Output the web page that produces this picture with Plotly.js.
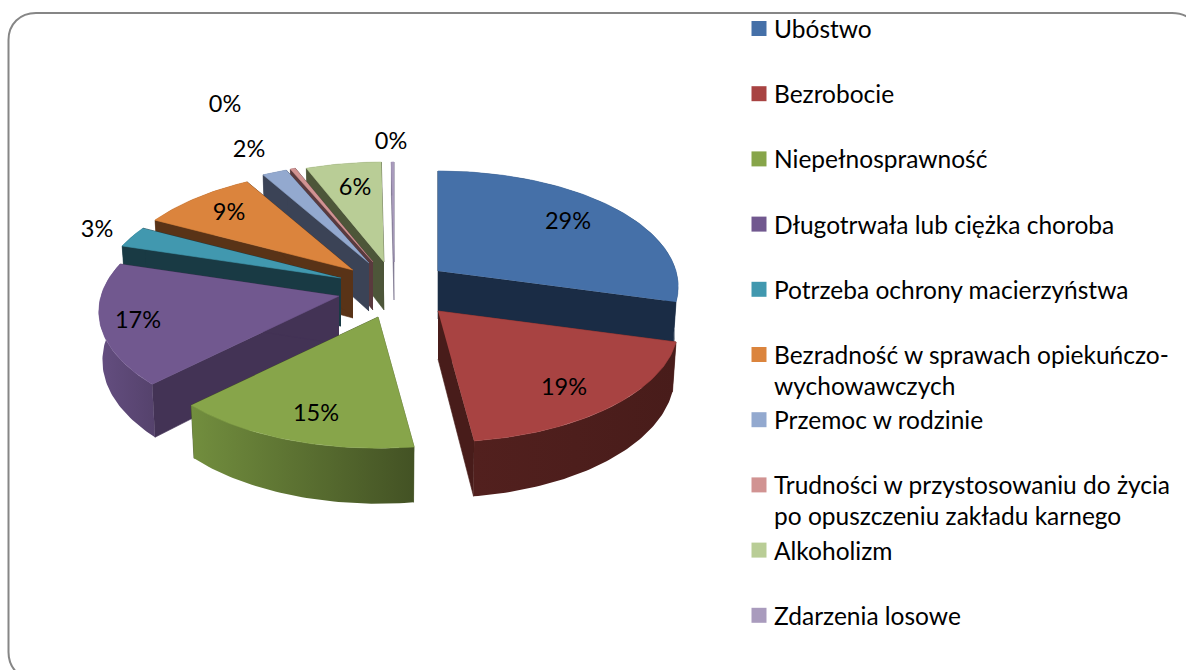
<!DOCTYPE html>
<html><head><meta charset="utf-8">
<script src="https://cdn.plot.ly/plotly-3.0.1.min.js"></script>
<style>html,body{margin:0;padding:0;background:#fff}#c{width:1186px;height:670px}</style>
</head><body><div id="c"></div>
<script>
// ---- data ----
const categories = ['Ubóstwo','Bezrobocie','Niepełnosprawność','Długotrwała lub ciężka choroba','Potrzeba ochrony macierzyństwa','Bezradność w sprawach opiekuńczo-<br>wychowawczych','Przemoc w rodzinie','Trudności w przystosowaniu do życia<br>po opuszczeniu zakładu karnego','Alkoholizm','Zdarzenia losowe'];
const values = [29.3,18.7,14.7,17.2,3,9,1.9,0.4,5.8,0.2];
const percentLabels = ['29%','19%','15%','17%','3%','9%','2%','0%','6%','0%'];

// ---- styles and layout geometry ----
const topColors  = ['#4570A8','#A84342','#87A54A','#71588F','#4198AF','#DB843D','#93A9CF','#D19392','#B9CD96','#A99BBD'];
const wallColors = ['#1A2C45','#481C1A','#435224','#433355','#193A44','#593317','#3B4356','#5A3A3E','#4D5639','#77708A'];
const arcColors  = [['#1A2C45','#1A2C45'],['#52201E','#481C1A'],['#728E3E','#435224'],['#644E80','#55426C'],['#193A44','#193A44'],['#593317','#593317'],['#3B4356','#3B4356'],['#5A3A3E','#5A3A3E'],['#4D5639','#4D5639'],['#77708A','#77708A']];
const apexX = [438,438,378,339,341,353,369,373,384,394];
const apexY = [271,311,317,296,278,270,263,262,262,262];
const depths = [48,48,48,48,48,48,48,48,48,38];
const drawOrder = [9,8,7,6,5,4,3,0,2,1];
const labelX = [568,564,316,138,97,229,249,225,355,391];
const labelY = [223,389,415,322,231,214,151,106,189,143];
const RX = 238, RY = 113.5, K = 0.135, FONT = 'Lato, Carlito, Calibri, sans-serif', LABEL_SIZE = 23.5;

const total = values.reduce((a,b)=>a+b,0);
let acc = 0;
const starts = values.map(v=>{const s=acc; acc+=v/total*360; return s;});

function pt(i,deg,low){
  const a = deg*Math.PI/180, u = Math.sin(a), v = -Math.cos(a), s = 1/(1-K*v);
  const f = low ? 0.985 : 1;
  return [apexX[i]+u*RX*s*f, apexY[i]+v*RY*s+(low?depths[i]*s:0)];
}
function apex(i,low){ return [apexX[i], apexY[i]+(low?depths[i]:0)]; }
function poly(points,color,grad){
  const t = {type:'scatter',mode:'lines',x:points.map(p=>p[0]),y:points.map(p=>p[1]),fill:'toself',
    line:{width:0.6,color:grad?grad[1]:color},hoverinfo:'skip',showlegend:false};
  if(grad){ t.fillgradient={type:'horizontal',colorscale:[[0,grad[0]],[1,grad[1]]]}; t.line={width:0}; }
  else t.fillcolor=color;
  return t;
}
const traces = [];
drawOrder.forEach(i=>{
  const a0 = starts[i], a1 = a0+values[i]/total*360;
  const arcT=[], arcB=[];
  const n = Math.max(2,Math.ceil(a1-a0));
  for(let k=0;k<=n;k++){ const d=a0+(a1-a0)*k/n; arcT.push(pt(i,d,false)); arcB.push(pt(i,d,true)); }
  traces.push(poly([apex(i,false),arcT[0],arcB[0],apex(i,true)],wallColors[i]));
  traces.push(poly([apex(i,false),arcT[n],arcB[n],apex(i,true)],wallColors[i]));
  traces.push(poly(arcT.concat(arcB.slice().reverse()),null,arcColors[i]));
  traces.push(poly([apex(i,false)].concat(arcT),topColors[i]));
});
traces.push({type:'scatter',mode:'text',x:labelX,y:labelY,text:percentLabels,textposition:'middle center',
  textfont:{family:FONT,size:LABEL_SIZE,color:'#000'},hoverinfo:'skip',showlegend:false});

// legend, drawn as markers and real text
const LEG_X = 759, LEG_TEXT_X = 774, LEG_TOP = 28.5, LEG_STEP = 65.2, LEG_SIZE = 24.5, LINE_GAP = 31;
const legY = categories.map((c,i)=>LEG_TOP+i*LEG_STEP);
traces.push({type:'scatter',mode:'markers',x:categories.map(()=>LEG_X),y:legY,
  marker:{symbol:'square',size:15,color:topColors,line:{width:0}},hoverinfo:'skip',showlegend:false});
const annotations = [];
categories.forEach((c,i)=>{
  c.split('<br>').forEach((line,j)=>{
    annotations.push({x:LEG_TEXT_X,y:legY[i]+j*LINE_GAP,xref:'x',yref:'y',text:line,showarrow:false,
      xanchor:'left',yanchor:'middle',align:'left',font:{family:FONT,size:LEG_SIZE,color:'#000'},borderpad:0,xshift:-1});
  });
});

const frame = {type:'path',xref:'x',yref:'y',layer:'below',
  path:'M 8.5 40 C 8.5 24 20 13 36 13 L 1172 13 C 1188 13 1200 24 1200 40 L 1200 652 C 1200 668 1188 680 1172 680 L 36 680 C 20 680 8.5 668 8.5 652 Z',
  line:{color:'#868686',width:2},fillcolor:'rgba(0,0,0,0)'};

Plotly.newPlot('c',traces,{
  width:1186,height:670,margin:{l:0,r:0,t:0,b:0},paper_bgcolor:'#fff',plot_bgcolor:'#fff',
  showlegend:false,hovermode:false,
  xaxis:{range:[0,1186],visible:false,fixedrange:true},
  yaxis:{range:[670,0],visible:false,fixedrange:true},
  shapes:[frame],annotations:annotations
},{displayModeBar:false,staticPlot:true});
</script></body></html>
